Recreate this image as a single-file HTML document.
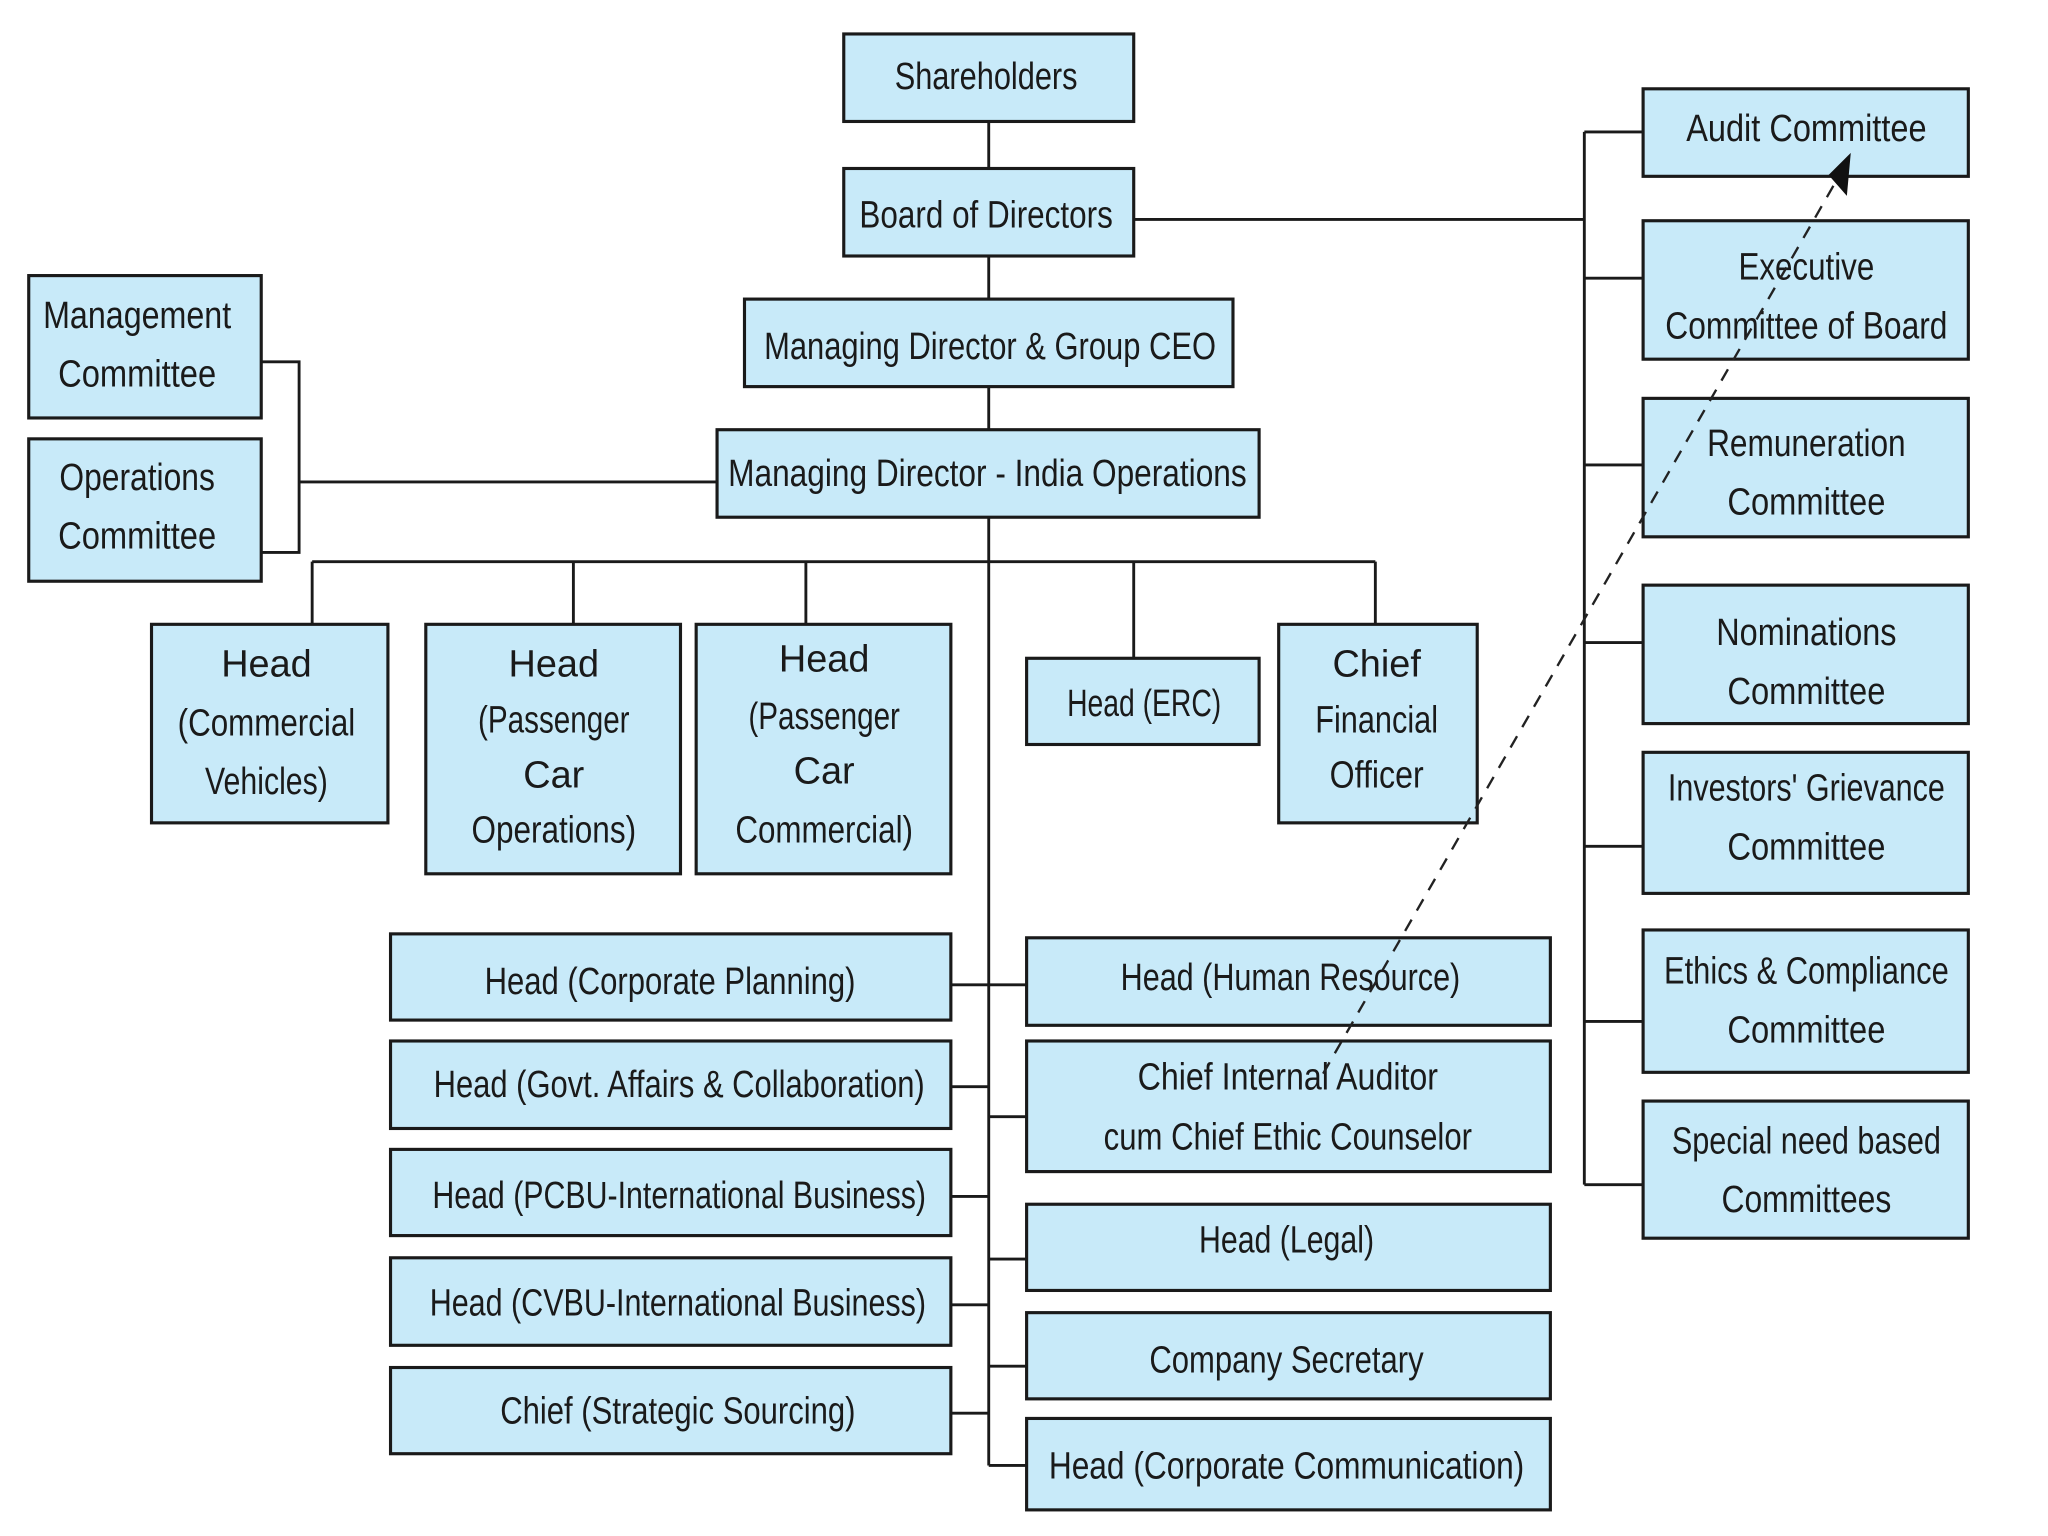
<!DOCTYPE html>
<html><head><meta charset="utf-8"><style>
html,body{margin:0;padding:0;background:#fff;}
svg{display:block;}
text{font-family:"Liberation Sans Narrow","Liberation Sans",sans-serif;font-size:29px;fill:#1a1a1a;text-anchor:middle;}
rect{fill:#c8eaf9;stroke:#1a1a1a;stroke-width:2.4;}
.l{stroke:#1a1a1a;stroke-width:2.2;fill:none;}
</style></head><body>
<svg width="2048" height="1536" viewBox="0 0 1568 1176" preserveAspectRatio="none">
<!-- connectors -->
<path class="l" d="M757 93V1122M646 168M868 168H1213M1213 101V907M1213 101H1258M1213 213H1258M1213 356H1258M1213 492H1258M1213 648H1258M1213 782H1258M1213 907H1258"/>
<path class="l" d="M200 277H229V423H200M229 369H549"/>
<path class="l" d="M239 430H1053M239 430V478M439 430V478M617 430V478M868 430V504M1053 430V478"/>
<path class="l" d="M728 754H786M728 832H757M728 916H757M728 999H757M728 1082H757M757 855H786M757 964H786M757 1046H786M757 1122H786"/>
<!-- boxes -->
<rect x="646" y="26" width="222" height="67"/><text x="755" y="68" textLength="140" lengthAdjust="spacingAndGlyphs">Shareholders</text>
<rect x="646" y="129" width="222" height="67"/><text x="755" y="174" textLength="194" lengthAdjust="spacingAndGlyphs">Board of Directors</text>
<rect x="570" y="229" width="374" height="67"/><text x="758" y="275" textLength="346" lengthAdjust="spacingAndGlyphs">Managing Director &amp; Group CEO</text>
<rect x="549" y="329" width="415" height="67"/><text x="756" y="372" textLength="397" lengthAdjust="spacingAndGlyphs">Managing Director - India Operations</text>

<rect x="22" y="211" width="178" height="109"/><text x="105" y="251" textLength="144" lengthAdjust="spacingAndGlyphs">Management</text><text x="105" y="296" textLength="121" lengthAdjust="spacingAndGlyphs">Committee</text>
<rect x="22" y="336" width="178" height="109"/><text x="105" y="375" textLength="119" lengthAdjust="spacingAndGlyphs">Operations</text><text x="105" y="420" textLength="121" lengthAdjust="spacingAndGlyphs">Committee</text>

<rect x="116" y="478" width="181" height="152"/><text x="204" y="518">Head</text><text x="204" y="563" textLength="136" lengthAdjust="spacingAndGlyphs">(Commercial</text><text x="204" y="608" textLength="94" lengthAdjust="spacingAndGlyphs">Vehicles)</text>
<rect x="326" y="478" width="195" height="191"/><text x="424" y="518">Head</text><text x="424" y="561" textLength="116" lengthAdjust="spacingAndGlyphs">(Passenger</text><text x="424" y="603">Car</text><text x="424" y="645" textLength="126" lengthAdjust="spacingAndGlyphs">Operations)</text>
<rect x="533" y="478" width="195" height="191"/><text x="631" y="514">Head</text><text x="631" y="558" textLength="116" lengthAdjust="spacingAndGlyphs">(Passenger</text><text x="631" y="600">Car</text><text x="631" y="645" textLength="136" lengthAdjust="spacingAndGlyphs">Commercial)</text>
<rect x="786" y="504" width="178" height="66"/><text x="876" y="548" textLength="118" lengthAdjust="spacingAndGlyphs">Head (ERC)</text>
<rect x="979" y="478" width="152" height="152"/><text x="1054" y="518">Chief</text><text x="1054" y="561" textLength="94" lengthAdjust="spacingAndGlyphs">Financial</text><text x="1054" y="603" textLength="72" lengthAdjust="spacingAndGlyphs">Officer</text>

<rect x="299" y="715" width="429" height="66"/><text x="513" y="761" textLength="284" lengthAdjust="spacingAndGlyphs">Head (Corporate Planning)</text>
<rect x="299" y="797" width="429" height="67"/><text x="520" y="840" textLength="376" lengthAdjust="spacingAndGlyphs">Head (Govt. Affairs &amp; Collaboration)</text>
<rect x="299" y="880" width="429" height="66"/><text x="520" y="925" textLength="378" lengthAdjust="spacingAndGlyphs">Head (PCBU-International Business)</text>
<rect x="299" y="963" width="429" height="67"/><text x="519" y="1007" textLength="380" lengthAdjust="spacingAndGlyphs">Head (CVBU-International Business)</text>
<rect x="299" y="1047" width="429" height="66"/><text x="519" y="1090" textLength="272" lengthAdjust="spacingAndGlyphs">Chief (Strategic Sourcing)</text>

<rect x="786" y="718" width="401" height="67"/><text x="988" y="758" textLength="260" lengthAdjust="spacingAndGlyphs">Head (Human Resource)</text>
<rect x="786" y="797" width="401" height="100"/><text x="986" y="834" textLength="230" lengthAdjust="spacingAndGlyphs">Chief Internal Auditor</text><text x="986" y="880" textLength="282" lengthAdjust="spacingAndGlyphs">cum Chief Ethic Counselor</text>
<rect x="786" y="922" width="401" height="66"/><text x="985" y="959" textLength="134" lengthAdjust="spacingAndGlyphs">Head (Legal)</text>
<rect x="786" y="1005" width="401" height="66"/><text x="985" y="1051" textLength="210" lengthAdjust="spacingAndGlyphs">Company Secretary</text>
<rect x="786" y="1086" width="401" height="70"/><text x="985" y="1132" textLength="364" lengthAdjust="spacingAndGlyphs">Head (Corporate Communication)</text>

<rect x="1258" y="68" width="249" height="67"/><text x="1383" y="108" textLength="184" lengthAdjust="spacingAndGlyphs">Audit Committee</text>
<rect x="1258" y="169" width="249" height="106"/><text x="1383" y="214" textLength="104" lengthAdjust="spacingAndGlyphs">Executive</text><text x="1383" y="259" textLength="216" lengthAdjust="spacingAndGlyphs">Committee of Board</text>
<rect x="1258" y="305" width="249" height="106"/><text x="1383" y="349" textLength="152" lengthAdjust="spacingAndGlyphs">Remuneration</text><text x="1383" y="394" textLength="121" lengthAdjust="spacingAndGlyphs">Committee</text>
<rect x="1258" y="448" width="249" height="106"/><text x="1383" y="494" textLength="138" lengthAdjust="spacingAndGlyphs">Nominations</text><text x="1383" y="539" textLength="121" lengthAdjust="spacingAndGlyphs">Committee</text>
<rect x="1258" y="576" width="249" height="108"/><text x="1383" y="613" textLength="212" lengthAdjust="spacingAndGlyphs">Investors' Grievance</text><text x="1383" y="658" textLength="121" lengthAdjust="spacingAndGlyphs">Committee</text>
<rect x="1258" y="712" width="249" height="109"/><text x="1383" y="753" textLength="218" lengthAdjust="spacingAndGlyphs">Ethics &amp; Compliance</text><text x="1383" y="798" textLength="121" lengthAdjust="spacingAndGlyphs">Committee</text>
<rect x="1258" y="843" width="249" height="105"/><text x="1383" y="883" textLength="206" lengthAdjust="spacingAndGlyphs">Special need based</text><text x="1383" y="928" textLength="130" lengthAdjust="spacingAndGlyphs">Committees</text>

<!-- dashed arrow -->
<path d="M1013 822L1405 140" stroke="#222" stroke-width="1.8" stroke-dasharray="10,8" fill="none"/>
<polygon points="1417,117 1400,134 1414,150" fill="#111"/>
</svg>
</body></html>
